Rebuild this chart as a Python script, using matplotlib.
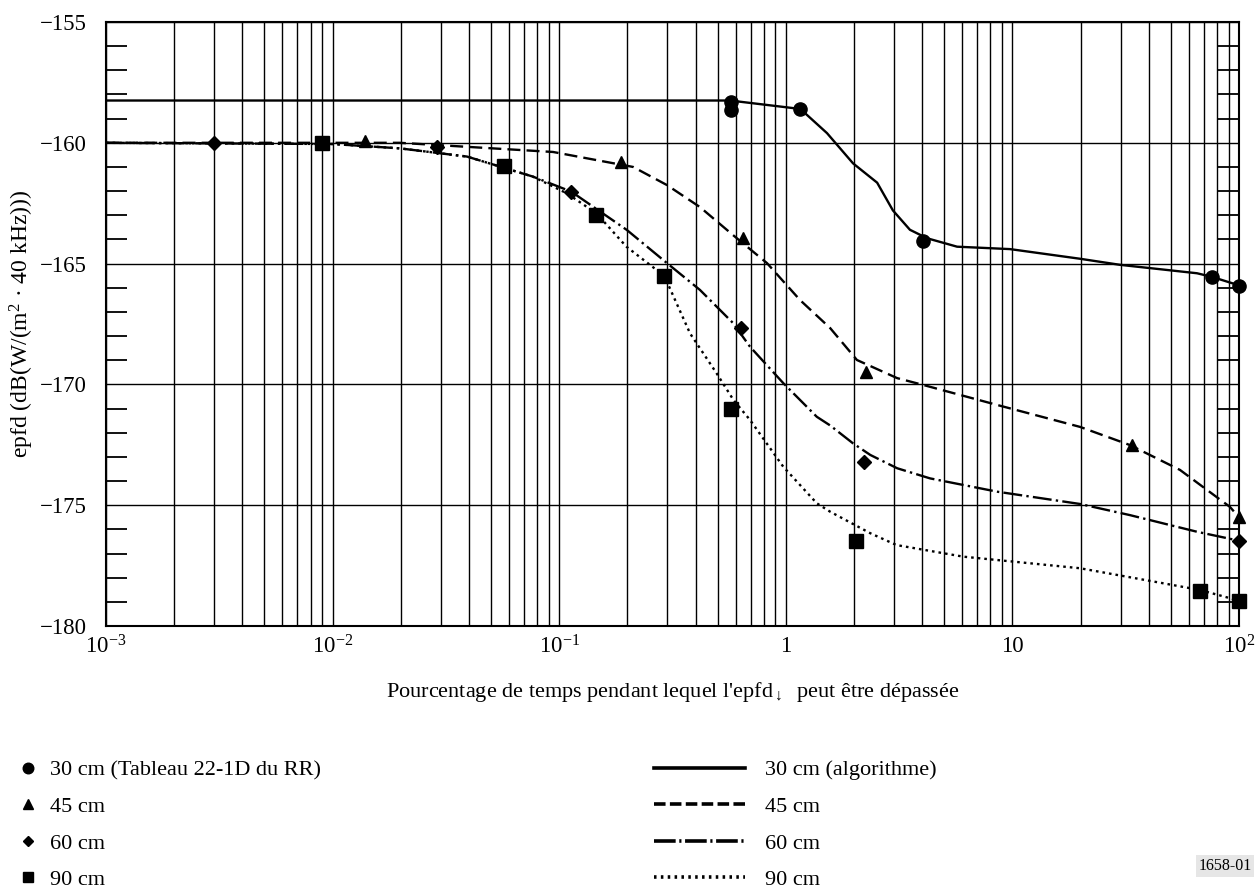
import matplotlib
matplotlib.use("Agg")
import matplotlib.pyplot as plt
from matplotlib.lines import Line2D
from matplotlib.ticker import FixedLocator, LogLocator, NullFormatter

plt.rcParams["font.family"] = ["Liberation Serif", "DejaVu Serif"]
plt.rcParams["mathtext.fontset"] = "custom"
plt.rcParams["mathtext.rm"] = "Liberation Serif"
plt.rcParams["mathtext.it"] = "Liberation Serif:italic"

# algorithm curves
curve_30_x = [0.001, 0.568, 1.16, 1.52, 1.98, 2.53, 2.97, 3.53, 4.2, 5.7, 9.76, 19.9, 29.8, 65.3, 76, 100]
curve_30_y = [-158.25, -158.25, -158.6, -159.6, -160.85, -161.65, -162.8, -163.6, -163.95, -164.3,
              -164.4, -164.8, -165.05, -165.4, -165.55, -165.9]

curve_45_x = [0.001, 0.0198, 0.094, 0.212, 0.299, 0.418, 0.585, 0.826, 1.156, 1.57, 2.06, 3.1, 4.03,
              8.56, 19.9, 33, 54.9, 91.2, 100]
curve_45_y = [-160.0, -160.0, -160.38, -161.0, -161.75, -162.66, -163.82, -164.98, -166.51, -167.67,
              -168.99, -169.74, -170.02, -170.85, -171.76, -172.51, -173.54, -175.07, -175.5]

curve_60_x = [0.001, 0.01, 0.0198, 0.0392, 0.0766, 0.113, 0.199, 0.299, 0.418, 0.585, 0.695, 0.973,
              1.37, 1.57, 1.98, 2.36, 3.1, 4.33, 8.56, 19.9, 33, 65.3, 100]
curve_60_y = [-160.0, -160.05, -160.23, -160.57, -161.4, -162.02, -163.61, -164.98, -166.09, -167.46,
              -168.44, -169.94, -171.34, -171.7, -172.44, -172.92, -173.47, -173.89, -174.44, -174.95,
              -175.41, -176.1, -176.47]

curve_90_x = [0.001, 0.01, 0.0198, 0.0392, 0.0766, 0.108, 0.146, 0.198, 0.291, 0.378, 0.495, 0.587,
              0.695, 0.975, 1.37, 1.57, 2.36, 3.08, 6.07, 19.9, 46.2, 67.3, 100]
curve_90_y = [-160.0, -160.05, -160.23, -160.57, -161.4, -162.09, -162.92, -164.3, -165.51, -167.89,
              -169.54, -170.64, -171.47, -173.41, -174.92, -175.27, -176.16, -176.65, -177.13, -177.61,
              -178.23, -178.51, -178.95]

# table points (RR Table 22-1D and others)
pts_30_x = [0.573, 0.573, 1.16, 4.03, 76, 100]
pts_30_y = [-158.3, -158.64, -158.6, -164.05, -165.55, -165.91]
pts_45_x = [0.0139, 0.1875, 0.647, 2.26, 33.7, 100]
pts_45_y = [-159.92, -160.78, -163.94, -169.49, -172.51, -175.49]
pts_60_x = [0.003, 0.029, 0.113, 0.632, 2.22, 100]
pts_60_y = [-160.0, -160.16, -162.02, -167.68, -173.2, -176.47]
pts_90_x = [0.00895, 0.057, 0.145, 0.291, 0.573, 2.05, 67.3, 100]
pts_90_y = [-160.0, -160.95, -162.99, -165.51, -171.03, -176.47, -178.55, -178.95]

x_ticks = [1e-3, 1e-2, 1e-1, 1, 10, 1e2]
x_tick_labels = ["10$^{-3}$", "10$^{-2}$", "10$^{-1}$", "1", "10", "10$^{2}$"]
y_ticks = [-180, -175, -170, -165, -160, -155]
y_tick_labels = ["\u2212180", "\u2212175", "\u2212170", "\u2212165", "\u2212160", "\u2212155"]

marker_labels = ["30 cm (Tableau 22-1D du RR)", "45 cm", "60 cm", "90 cm"]
line_labels = ["30 cm (algorithme)", "45 cm", "60 cm", "90 cm"]

fig = plt.figure(figsize=(12.55, 8.88), dpi=100)
ax = fig.add_axes([106 / 1255, 1 - 626 / 888, (1239 - 106) / 1255, (626 - 22) / 888])

ax.set_xscale("log")
ax.set_xlim(1e-3, 1e2)
ax.set_ylim(-180, -155)

lw = 1.7
styles = [
    dict(linestyle="-"),
    dict(linestyle=(0, (5.5, 2.6))),
    dict(linestyle=(0, (8.0, 1.8, 1.0, 1.8))),
    dict(linestyle=(0, (1.1, 1.7))),
]
curves = [(curve_30_x, curve_30_y), (curve_45_x, curve_45_y),
          (curve_60_x, curve_60_y), (curve_90_x, curve_90_y)]
for (cx, cy), st in zip(curves, styles):
    ax.plot(cx, cy, color="black", lw=lw, zorder=3, **st)

markers = ["o", "^", "D", "s"]
sizes = [9.5, 9, 7, 9.5]
points = [(pts_30_x, pts_30_y), (pts_45_x, pts_45_y), (pts_60_x, pts_60_y), (pts_90_x, pts_90_y)]
for (px, py), m, s in zip(points, markers, sizes):
    ax.plot(px, py, linestyle="none", marker=m, ms=s, color="black", zorder=4, clip_on=False)

# grid: every log subdivision vertically, every 5 dB horizontally
ax.xaxis.set_major_locator(FixedLocator(x_ticks))
ax.xaxis.set_minor_locator(LogLocator(base=10, subs=range(2, 10)))
ax.xaxis.set_minor_formatter(NullFormatter())
ax.set_xticks(x_ticks)
ax.set_xticklabels(x_tick_labels, fontsize=16.5)
ax.grid(True, which="both", axis="x", color="black", lw=1.0)
ax.grid(True, which="major", axis="y", color="black", lw=1.0)
ax.tick_params(axis="x", which="both", length=0, pad=7)

ax.set_yticks(y_ticks)
ax.set_yticklabels(y_tick_labels, fontsize=16.5)
ax.yaxis.set_minor_locator(FixedLocator([v for v in range(-179, -155) if v % 5 != 0]))
ax.tick_params(axis="y", which="major", length=0, pad=14)
ax.tick_params(axis="y", which="minor", direction="in", length=15, width=1.3,
               left=True, right=True)
for sp in ax.spines.values():
    sp.set_linewidth(1.5)

ax.set_ylabel("epfd (dB(W/(m$^{2}$ \u00b7 40 kHz)))", fontsize=17, va="center")
ax.yaxis.set_label_coords((22 - 106) / 1133, 0.5)
ax.set_xlabel("Pourcentage de temps pendant lequel l'epfd$_{\\downarrow}$  peut être dépassée",
              fontsize=16, va="center")
ax.xaxis.set_label_coords(0.5, (626 - 692) / 604)

# legends below the plot
marker_handles = [Line2D([], [], linestyle="none", marker=m, ms=s * 0.8, color="black")
                  for m, s in zip(markers, sizes)]
fig.legend(marker_handles, marker_labels, loc="upper left",
           bbox_to_anchor=(8 / 1255, 1 - 751 / 888), frameon=False, fontsize=16,
           handlelength=1.0, handletextpad=0.5, labelspacing=0.72, borderaxespad=0)

legend_styles = ["-", (0, (3.2, 1.2)), (0, (6.0, 1.0, 0.6, 1.0)), (0, (0.7, 1.2))]
line_handles = [Line2D([], [], color="black", lw=2.6, linestyle=ls) for ls in legend_styles]
fig.legend(line_handles, line_labels, loc="upper left",
           bbox_to_anchor=(645 / 1255, 1 - 751 / 888), frameon=False, fontsize=16,
           handlelength=4.1, handletextpad=0.9, labelspacing=0.72, borderaxespad=0)

fig.text(1225 / 1255, 1 - 866 / 888, "1658-01", fontsize=11.5, ha="center", va="center",
         bbox=dict(facecolor="#e6e6e6", edgecolor="none", pad=2))

fig.savefig("out.png", dpi=100)
